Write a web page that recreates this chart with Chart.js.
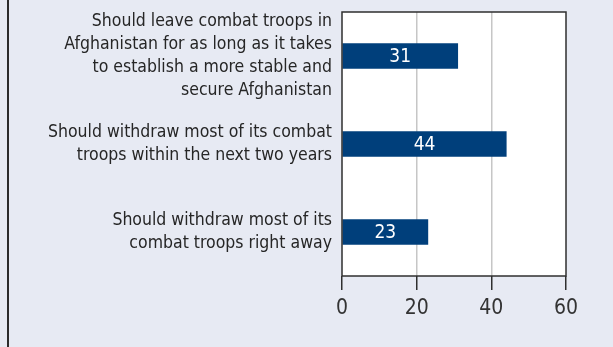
<!DOCTYPE html>
<html>
<head>
<meta charset="utf-8">
<script src="https://cdn.jsdelivr.net/npm/chart.js@4"></script>
<style>
  html, body { margin: 0; padding: 0; background: #e7eaf3; }
  #wrap { position: relative; width: 613px; height: 347px; }
  #frame { position: absolute; left: 7px; top: 0; width: 2px; height: 347px; background: #2b2b2b; }
  canvas { position: absolute; left: 0; top: 0; }
</style>
</head>
<body>
<div id="wrap">
  <div id="frame"></div>
  <canvas id="chart" width="613" height="347"></canvas>
</div>
<script>
// 아프간 철군 여론 — 가로 막대
const categories = [
  ['Should leave combat troops in', 'Afghanistan for as long as it takes', 'to establish a more stable and', 'secure Afghanistan'],
  ['Should withdraw most of its combat', 'troops within the next two years'],
  ['Should withdraw most of its', 'combat troops right away'],
];
const values = [31, 44, 23];
const xTicks = [0, 20, 40, 60];

const FONT = '"Liberation Sans Narrow", "DejaVu Sans Condensed", "Roboto", sans-serif';
const DARK = '#2f2f2f';

// 플롯 영역 흰 배경 + 테두리
const frame = {
  id: 'frame',
  beforeDraw(chart) {
    const { ctx, chartArea: a } = chart;
    ctx.save();
    ctx.fillStyle = '#ffffff';
    ctx.fillRect(a.left, a.top, a.right - a.left, a.bottom - a.top);
    ctx.restore();
  },
  afterDatasetsDraw(chart) {
    const { ctx, chartArea: a } = chart;
    ctx.save();
    ctx.strokeStyle = DARK;
    ctx.lineWidth = 1.5;
    ctx.strokeRect(a.left, a.top, a.right - a.left, a.bottom - a.top);
    ctx.restore();
  },
};

// 막대 안 값 표시
const barLabels = {
  id: 'barLabels',
  afterDatasetsDraw(chart) {
    const { ctx } = chart;
    const meta = chart.getDatasetMeta(0);
    ctx.save();
    ctx.fillStyle = '#ffffff';
    ctx.font = '19px ' + FONT;
    ctx.textAlign = 'center';
    ctx.textBaseline = 'middle';
    meta.data.forEach((bar, i) => {
      ctx.fillText(String(values[i]), (bar.base + bar.x) / 2, bar.y + 1);
    });
    ctx.restore();
  },
};

new Chart(document.getElementById('chart'), {
  type: 'bar',
  data: {
    labels: categories,
    datasets: [{
      data: values,
      backgroundColor: '#003f7b',
      barThickness: 25,
    }],
  },
  options: {
    indexAxis: 'y',
    responsive: false,
    animation: false,
    layout: { padding: { top: 12, right: 47, bottom: 0, left: 0 } },
    plugins: { legend: { display: false }, tooltip: { enabled: false } },
    scales: {
      x: {
        min: 0,
        max: 60,
        afterBuildTicks: s => { s.ticks = xTicks.map(v => ({ value: v })); },
        afterFit: s => { s.height = 71; },
        grid: {
          color: c => (c.tick && (c.tick.value === 20 || c.tick.value === 40)) ? '#c6c6c6' : 'rgba(0,0,0,0)',
          lineWidth: 1.5,
          tickColor: DARK,
          tickLength: 14,
        },
        border: { display: false },
        ticks: {
          color: '#333333',
          font: { family: FONT, size: 21 },
          padding: 6,
        },
      },
      y: {
        afterFit: s => { s.width = 342; s.paddingTop = 0; s.paddingBottom = 0; },
        grid: { display: false, drawTicks: false },
        border: { display: false },
        ticks: {
          autoSkip: false,
          color: '#262626',
          font: { family: FONT, size: 17.5, lineHeight: 1.33 },
          padding: 10,
        },
      },
    },
  },
  plugins: [frame, barLabels],
});
</script>
</body>
</html>
